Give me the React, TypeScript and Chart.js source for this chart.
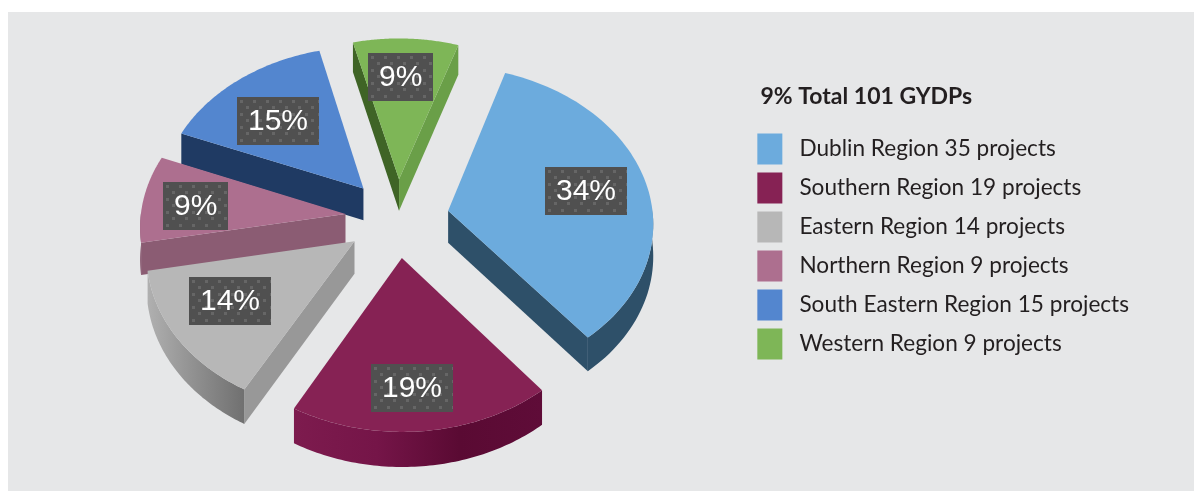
import React, { useEffect, useRef } from "react";
import { Chart, registerables } from "chart.js";

Chart.register(...registerables);

const regions = ["Dublin Region", "Southern Region", "Eastern Region", "Northern Region", "South Eastern Region", "Western Region"];
const projects = [35, 19, 14, 9, 15, 9];
const shares = [34, 19, 14, 9, 15, 9];
const topColors = ["#6cabdd", "#862254", "#b7b7b7", "#ad6f8f", "#5386cf", "#7eb657"];
const startWalls = ["#2e5069", "#5e0c37", "#989898", "#8b5c73", "#1f3a63", "#3f6426"];
const endWalls = ["#2e5069", "#5e0c37", "#989898", "#8b5c73", "#1f3a63", "#6a9f48"];
const outerWalls = [
  ["#2e5069", "#2e5069"],
  ["#7d1b4e", "#751548", "#5a0a33", "#5f0c38"],
  ["#b0b0b0", "#8f8f8f", "#707070"],
  ["#8b5c73", "#8b5c73"],
  ["#1f3a63", "#1f3a63"],
  ["#6a9f48", "#6a9f48"],
];
const title = "  9% Total 101 GYDPs";
const labelRadius = [0.66, 0.72, 0.62, 0.7, 0.6, 0.6];
const labelNudge = [[7, -1], [-4, 8], [-16, 1], [-8, 3], [-9, -1], [-3, -16]];

const RADIUS = 205;
const EXPLODE = 52;
const SQUASH = 0.76;
const PERSPECTIVE = 0.07;
const DEPTH = 32;

function project(cx: number, cy: number, px: number, py: number, h = 0) {
  const f = 1 / (1 - (PERSPECTIVE * py) / RADIUS);
  return [cx + px * f, cy + py * SQUASH * f + h * f];
}

function poly(ctx: CanvasRenderingContext2D, pts: number[][]) {
  ctx.beginPath();
  pts.forEach((p, i) => (i ? ctx.lineTo(p[0], p[1]) : ctx.moveTo(p[0], p[1])));
  ctx.closePath();
}

function dots() {
  const c = document.createElement("canvas");
  c.width = 13;
  c.height = 13;
  const g = c.getContext("2d")!;
  g.fillStyle = "#505050";
  g.fillRect(0, 0, 13, 13);
  g.fillStyle = "#666666";
  g.fillRect(3, 3, 3, 3);
  g.fillRect(9, 9, 3, 3);
  return c;
}

const pie3d = {
  id: "pie3d",
  beforeDraw(chart: any) {
    const { ctx, width, height } = chart;
    ctx.save();
    ctx.fillStyle = "#e6e7e8";
    ctx.fillRect(8, 12, width - 8, height - 12);
    ctx.restore();
  },
  beforeDatasetsDraw(chart: any) {
    const ctx: CanvasRenderingContext2D = chart.ctx;
    const arcs: any[] = chart.getDatasetMeta(0).data;
    const slices = arcs.map((arc: any, i: number) => {
      const { x, y, startAngle, endAngle, outerRadius } = arc.getProps(["x", "y", "startAngle", "endAngle", "outerRadius"]);
      const mid = (startAngle + endAngle) / 2;
      const off = arc.options.offset;
      return { i, x, y, startAngle, endAngle, outerRadius, mid, ox: off * Math.cos(mid), oy: off * Math.sin(mid) };
    });
    const order = [...slices].sort((a, b) => a.oy + Math.sin(a.mid) * 100 - (b.oy + Math.sin(b.mid) * 100));
    for (const s of order) {
      const top: number[][] = [];
      const bottom: number[][] = [];
      const N = 72;
      for (let k = 0; k <= N; k++) {
        const a = s.startAngle + ((s.endAngle - s.startAngle) * k) / N;
        const px = s.ox + s.outerRadius * Math.cos(a);
        const py = s.oy + s.outerRadius * Math.sin(a);
        top.push(project(s.x, s.y, px, py));
        bottom.push(project(s.x, s.y, px, py, DEPTH));
      }
      const apexT = project(s.x, s.y, s.ox, s.oy);
      const apexB = project(s.x, s.y, s.ox, s.oy, DEPTH);
      if (Math.cos(s.startAngle) < 0) {
        poly(ctx, [apexT, top[0], bottom[0], apexB]);
        ctx.fillStyle = startWalls[s.i];
        ctx.fill();
      }
      if (Math.cos(s.endAngle) > 0) {
        poly(ctx, [apexT, top[N], bottom[N], apexB]);
        ctx.fillStyle = endWalls[s.i];
        ctx.fill();
      }
      const tv: number[][] = [];
      const bv: number[][] = [];
      for (let k = 0; k <= N; k++) {
        const a = s.startAngle + ((s.endAngle - s.startAngle) * k) / N;
        if (Math.sin(a) > -0.02) {
          tv.push(top[k]);
          bv.push(bottom[k]);
        }
      }
      if (tv.length > 1) {
        const xs = tv.map((p) => p[0]);
        const g = ctx.createLinearGradient(Math.min(...xs), 0, Math.max(...xs), 0);
        const stops = outerWalls[s.i];
        stops.forEach((c, j) => g.addColorStop(j / (stops.length - 1), c));
        poly(ctx, [...tv, ...bv.reverse()]);
        ctx.fillStyle = g;
        ctx.fill();
      }
      poly(ctx, [apexT, ...top]);
      ctx.fillStyle = topColors[s.i];
      ctx.fill();
    }
    const pattern = ctx.createPattern(dots(), "repeat")!;
    for (const s of slices) {
      const r = s.outerRadius * labelRadius[s.i];
      const c = project(s.x, s.y, s.ox + r * Math.cos(s.mid), s.oy + r * Math.sin(s.mid));
      const lx = c[0] + labelNudge[s.i][0];
      const ly = c[1] + labelNudge[s.i][1];
      const text = shares[s.i] + "%";
      ctx.font = "30px 'Liberation Sans'";
      const w = ctx.measureText(text).width + 22;
      const h = 48;
      const bx = Math.round(lx - w / 2);
      const by = Math.round(ly - h / 2);
      ctx.save();
      ctx.translate(bx, by);
      ctx.fillStyle = pattern;
      ctx.fillRect(0, 0, Math.round(w), h);
      ctx.restore();
      ctx.fillStyle = "#ffffff";
      ctx.textAlign = "center";
      ctx.textBaseline = "middle";
      ctx.fillText(text, bx + w / 2, by + h / 2 + 1);
    }
    return false;
  },
};

export default function App() {
  const ref = useRef<HTMLCanvasElement>(null);
  useEffect(() => {
    const chart = new Chart(ref.current!, {
      type: "pie",
      data: {
        labels: regions.map((r, i) => ` ${r} ${projects[i]} projects`),
        datasets: [
          {
            data: shares,
            backgroundColor: topColors,
            borderWidth: 0,
            offset: EXPLODE,
          },
        ],
      },
      options: {
        responsive: false,
        animation: false,
        devicePixelRatio: 1,
        rotation: 18.3,
        radius: RADIUS,
        layout: { padding: { left: 45, right: 55, top: 0, bottom: 55 } },
        plugins: {
          tooltip: { enabled: false },
          legend: {
            position: "right",
            align: "start",
            title: {
              display: true,
              text: title,
              color: "#231f20",
              position: "start",
              font: { family: "Lato", size: 23, weight: "bold" },
              padding: { top: 85, bottom: 13 },
            },
            labels: {
              color: "#231f20",
              boxWidth: 25,
              boxHeight: 31,
              padding: 8,
              font: { family: "Lato", size: 22.6 },
            },
          },
        },
      } as any,
      plugins: [pie3d as any],
    });
    return () => chart.destroy();
  }, []);
  return <canvas ref={ref} width={1194} height={491} style={{ position: "absolute", left: 0, top: 0 }} />;
}
